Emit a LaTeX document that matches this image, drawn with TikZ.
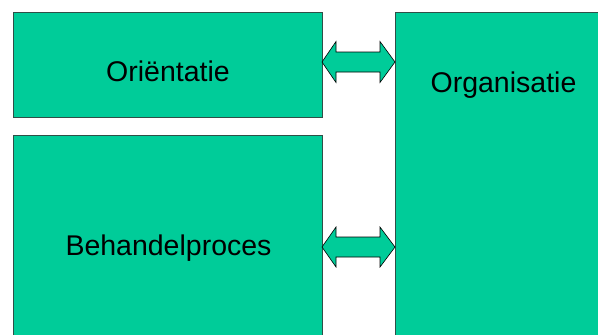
\documentclass[tikz,border=0pt]{standalone}
\usepackage{fontspec}
\setmainfont{Liberation Sans}
\definecolor{boxgreen}{HTML}{00CC99}
\definecolor{edge}{HTML}{2F4F47}
\begin{document}
\begin{tikzpicture}[x=1pt,y=-1pt,
  panel/.style={fill=boxgreen,draw=edge,line width=0.8pt},
  lbl/.style={font=\fontsize{28.5}{32}\selectfont,anchor=base,inner sep=0pt},
  barrow/.style={fill=boxgreen,draw=black,line width=0.6pt,line join=miter}]
\useasboundingbox (0,0) rectangle (598,335);
\begin{scope}
\clip (0,0) rectangle (598,335);
\draw[panel] (13,12) rectangle (322,117);
\draw[panel] (13,135) rectangle (322,340);
\draw[panel] (395,12) rectangle (603,340);
\end{scope}
\node[lbl] (orient) at (168,81) {Oriëntatie};
\node[lbl] (behandel) at (168.5,255) {Behandelproces};
\node[lbl] (organ) at (503.5,92) {Organisatie};
% block arrows
\draw[barrow] (322,62) -- (336,41.5) -- (336,52) -- (380,52) -- (380,41.5) -- (395,62)
  -- (380,82.5) -- (380,72) -- (336,72) -- (336,82.5) -- cycle;
\draw[barrow] (322,247) -- (336,227) -- (336,237) -- (380,237) -- (380,227) -- (395,247)
  -- (380,267) -- (380,257) -- (336,257) -- (336,267) -- cycle;
\end{tikzpicture}
\end{document}
